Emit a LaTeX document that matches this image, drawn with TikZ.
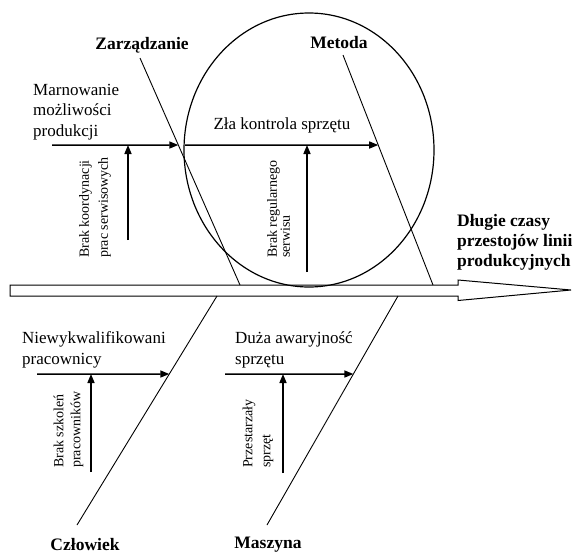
\documentclass[tikz,border=0pt]{standalone}
\usepackage{fontspec}
\setmainfont{Liberation Serif}
\usetikzlibrary{arrows.meta}

\begin{document}
\begin{tikzpicture} [x = 1pt, y = -1pt,
	cause/.style = {font = \fontsize{17}{20.5}\selectfont, inner sep = 0pt, align = left},
	category/.style = {font = \fontsize{17.5}{20}\selectfont\bfseries, inner sep = 0pt},
	subcause/.style = {font = \fontsize{14}{#1}\selectfont, inner sep = 0pt, align = left, rotate = 90, anchor = west},
	bone/.style = {line width = 0.9pt},
	rib/.style = {line width = 1.5pt, -{Triangle[length = 9pt, width = 7pt]}}]
	\useasboundingbox (0,0) rectangle (574,555);
	% spine
	\draw [line width = 1pt] (10,285) -- (458,285) -- (458,280) -- (571,290) -- (458,300.5) -- (458,296) -- (10,296) -- cycle;
	\coordinate (spine top) at (10,285);
	\coordinate (spine end) at (458,285);
	\coordinate (spine bottom) at (10,296);
	\coordinate (spine bend) at (458,296);
	\node [category, align = left, anchor = west] (effect) at (457,242) {D\l ugie czasy\\przestojów linii\\produkcyjnych};
	% circle
	\draw [line width = 1.2pt] (309,150) ellipse [x radius = 125, y radius = 137];
	% bones
	\node [category] (zarzadzanie) at (142,45) {Zarządzanie};
	\node [category] (metoda) at (339,43) {Metoda};
	\node [category] (czlowiek) at (85,545) {Człowiek};
	\node [category] (maszyna) at (268,545) {Maszyna};
	\coordinate (zarz start) at (140,58);
	\coordinate (zarz end) at (240,285);
	\coordinate (met start) at (343,55);
	\coordinate (met end) at (433,285);
	\coordinate (czl start) at (77,525);
	\coordinate (czl end) at (217,296);
	\coordinate (masz start) at (267,525);
	\coordinate (masz end) at (398,296);
	\draw [bone] (zarz start) -- (zarz end);
	\draw [bone] (met start) -- (met end);
	\draw [bone] (czl start) -- (czl end);
	\draw [bone] (masz start) -- (masz end);
	% causes
	\node [cause, anchor = west] (marnowanie) at (33,112) {Marnowanie\\możliwości\\produkcji};
	\node [cause] (kontrola) at (282,125) {Zła kontrola sprzętu};
	\node [cause, anchor = west] (kwalifikacje) at (22,350) {Niewykwalifikowani\\pracownicy};
	\node [cause, anchor = west] (awarie) at (235,350) {Duża awaryjność\\sprzętu};
	\coordinate (marn start) at (52,145);
	\coordinate (marn tip) at (intersection of zarz start--zarz end and 0,145--100,145);
	\coordinate (kontr start) at (185,145);
	\coordinate (kontr tip) at (intersection of met start--met end and 0,145--100,145);
	\coordinate (kwal start) at (37,374);
	\coordinate (kwal tip) at (intersection of czl start--czl end and 0,374--100,374);
	\coordinate (awar start) at (225,374);
	\coordinate (awar tip) at (intersection of masz start--masz end and 0,374--100,374);
	\draw [rib] (marn start) -- (marn tip);
	\draw [rib] (kontr start) -- (kontr tip);
	\draw [rib] (kwal start) -- (kwal tip);
	\draw [rib] (awar start) -- (awar tip);
	% sub-causes
	\node [subcause = 19] (koordynacja) at (95,258) {Brak koordynacji\\prac serwisowych};
	\node [subcause = 13] (serwis) at (278.5,258) {Brak regularnego\\serwisu};
	\node [subcause = 17] (szkolenia) at (68.5,468) {Brak szkoleń\\pracowników};
	\node [subcause = 18] (sprzet) at (258,468) {Przestarzały\\sprzęt};
	\coordinate (koord foot) at (128,240);
	\coordinate (serw foot) at (307,272);
	\coordinate (szk foot) at (91,472);
	\coordinate (sprz foot) at (283,473);
	\draw [rib] (koord foot) -- (koord foot |- marn start);
	\draw [rib] (serw foot) -- (serw foot |- kontr start);
	\draw [rib] (szk foot) -- (szk foot |- kwal start);
	\draw [rib] (sprz foot) -- (sprz foot |- awar start);
\end{tikzpicture}
\end{document}
